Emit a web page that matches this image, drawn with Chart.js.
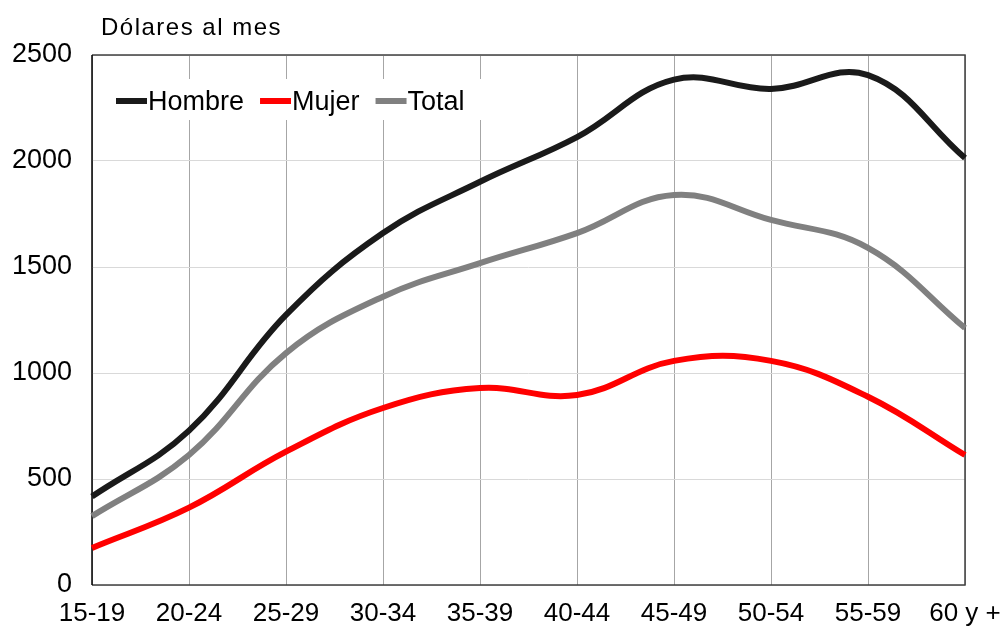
<!DOCTYPE html>
<html>
<head>
<meta charset="utf-8">
<script src="https://cdn.jsdelivr.net/npm/chart.js@4.4.1/dist/chart.umd.min.js"></script>
<style>
  html, body { margin: 0; padding: 0; background: #fff; }
  #wrap { width: 1005px; height: 627px; position: relative; }
</style>
</head>
<body>
<div id="wrap"><canvas id="chart"></canvas></div>
<script>
// data
const ageGroups = ['15-19', '20-24', '25-29', '30-34', '35-39', '40-44', '45-49', '50-54', '55-59', '60 y +'];
const hombre = [417, 728, 1274, 1660, 1902, 2113, 2384, 2340, 2405, 2014];
const mujer = [175, 365, 629, 835, 929, 896, 1057, 1057, 888, 613];
const total = [325, 613, 1094, 1360, 1518, 1660, 1840, 1722, 1590, 1212];
const yMin = 0;
const yMax = 2500;
const yStep = 500;
const unitLabel = 'Dólares al mes';

const FONT = "'Liberation Sans', Arial, sans-serif";

// white legend box inside the plot, drawn over the grid
const legendInside = {
    id: 'legendInside',
    beforeDatasetsDraw(chart) {
        const ctx = chart.ctx;
        const area = chart.chartArea;
        ctx.save();
        ctx.fillStyle = '#fff';
        ctx.fillRect(area.left + 3, 79, 392, 41);

        // plot frame
        ctx.lineWidth = 1.5;
        ctx.strokeStyle = '#404040';
        ctx.beginPath();
        ctx.moveTo(area.left, area.top);
        ctx.lineTo(area.right, area.top);
        ctx.lineTo(area.right, area.bottom);
        ctx.lineTo(area.left, area.bottom);
        ctx.stroke();
        ctx.strokeStyle = '#000';
        ctx.beginPath();
        ctx.moveTo(area.left, area.top);
        ctx.lineTo(area.left, area.bottom);
        ctx.stroke();
        ctx.restore();
    },
    afterDraw(chart) {
        const ctx = chart.ctx;
        ctx.save();
        ctx.font = '27px ' + FONT;
        ctx.textBaseline = 'alphabetic';
        ctx.fillStyle = '#000';
        let x = 116;
        const y = 101;
        chart.data.datasets.forEach(ds => {
            ctx.strokeStyle = ds.borderColor;
            ctx.lineWidth = 6;
            ctx.beginPath();
            ctx.moveTo(x, y);
            ctx.lineTo(x + 31, y);
            ctx.stroke();
            x += 32;
            ctx.fillText(ds.label, x, 109.5);
            x += ctx.measureText(ds.label).width + 16;
        });

        // unit label above the plot
        ctx.font = '24px ' + FONT;
        ctx.letterSpacing = '1.5px';
        ctx.fillText(unitLabel, 101, 34.5);
        ctx.restore();
    }
};

const chart = new Chart(document.getElementById('chart'), {
    type: 'line',
    data: {
        labels: ageGroups,
        datasets: [
            { label: 'Hombre', data: hombre, borderColor: '#1a1a1a' },
            { label: 'Mujer', data: mujer, borderColor: '#ff0000' },
            { label: 'Total', data: total, borderColor: '#808080' }
        ].map(ds => Object.assign(ds, {
            borderWidth: 6,
            tension: 0.4,
            pointRadius: 0,
            fill: false,
            borderCapStyle: 'butt'
        }))
    },
    options: {
        responsive: true,
        maintainAspectRatio: false,
        animation: false,
        devicePixelRatio: 1,
        layout: { padding: { top: 55, right: 40, left: 0, bottom: 0 } },
        plugins: {
            legend: { display: false },
            tooltip: { enabled: false }
        },
        scales: {
            x: {
                offset: false,
                grid: { color: '#a6a6a6', lineWidth: 1, drawTicks: false, offset: false },
                border: { display: false },
                ticks: {
                    color: '#000',
                    font: { family: FONT, size: 26 },
                    padding: 13,
                    maxRotation: 0,
                    autoSkip: false
                },
                afterFit(scale) {
                    scale.height = 42;
                    scale.paddingLeft = 0;
                    scale.paddingRight = 0;
                }
            },
            y: {
                min: yMin,
                max: yMax,
                grid: { color: '#d9d9d9', lineWidth: 1, drawTicks: false },
                border: { display: false },
                ticks: {
                    stepSize: yStep,
                    color: '#000',
                    font: { family: FONT, size: 27 },
                    padding: 20,
                    callback: v => String(v)
                },
                afterFit(scale) {
                    scale.width = 92;
                    scale.paddingTop = 0;
                    scale.paddingBottom = 0;
                }
            }
        }
    },
    plugins: [legendInside]
});
</script>
</body>
</html>
